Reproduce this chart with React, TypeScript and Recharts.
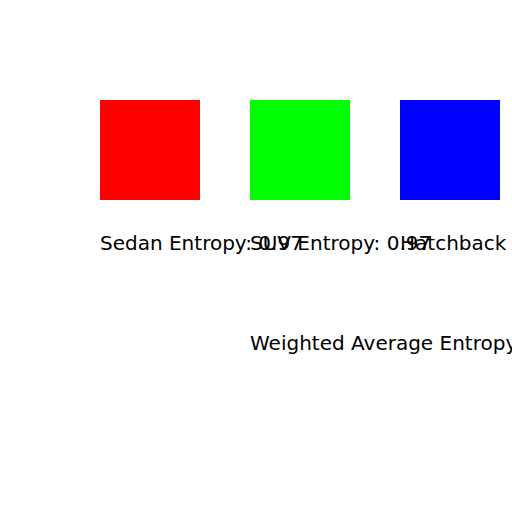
import React from 'react';
import { BarChart, Bar, XAxis, YAxis, Cell, LabelList } from 'recharts';

const categories = ['Sedan', 'SUV', 'Hatchback'];
const entropies = [0.97, 0.97, 0.97];
const heights = [1, 1, 1];
const colors = ['#ff0000', '#00ff00', '#0000ff'];
const weightedAverage = 0.97;

const data = categories.map((name, i) => ({
  name,
  entropy: entropies[i],
  height: heights[i],
}));

const fontFamily = '"DejaVu Sans", sans-serif';

const EntropyLabel = (props: any) => {
  const { x, y, height, index } = props;
  return (
    <text x={x} y={y + height + 50} fontSize={20} fontFamily={fontFamily} fill="#000">
      {`${categories[index]} Entropy: ${entropies[index].toFixed(2)}`}
    </text>
  );
};

const AverageLabel = (props: any) => {
  const { x, y, height, index } = props;
  if (index !== 1) return null;
  return (
    <text x={x} y={y + height + 150} fontSize={20} fontFamily={fontFamily} fill="#000">
      {`Weighted Average Entropy: ${weightedAverage.toFixed(2)}`}
    </text>
  );
};

export default function App() {
  return (
    <div
      style={{
        position: 'absolute',
        top: 0,
        left: 0,
        width: 512,
        height: 512,
        overflow: 'hidden',
        background: '#fff',
      }}
    >
      <BarChart
        width={600}
        height={512}
        data={data}
        margin={{ top: 100, right: 75, left: 75, bottom: 312 }}
        barSize={100}
      >
        <XAxis dataKey="name" hide />
        <YAxis domain={[0, 1]} hide />
        <Bar dataKey="height" isAnimationActive={false}>
          {data.map((d, i) => (
            <Cell key={d.name} fill={colors[i]} />
          ))}
          <LabelList dataKey="entropy" content={EntropyLabel} />
          <LabelList dataKey="entropy" content={AverageLabel} />
        </Bar>
      </BarChart>
    </div>
  );
}
